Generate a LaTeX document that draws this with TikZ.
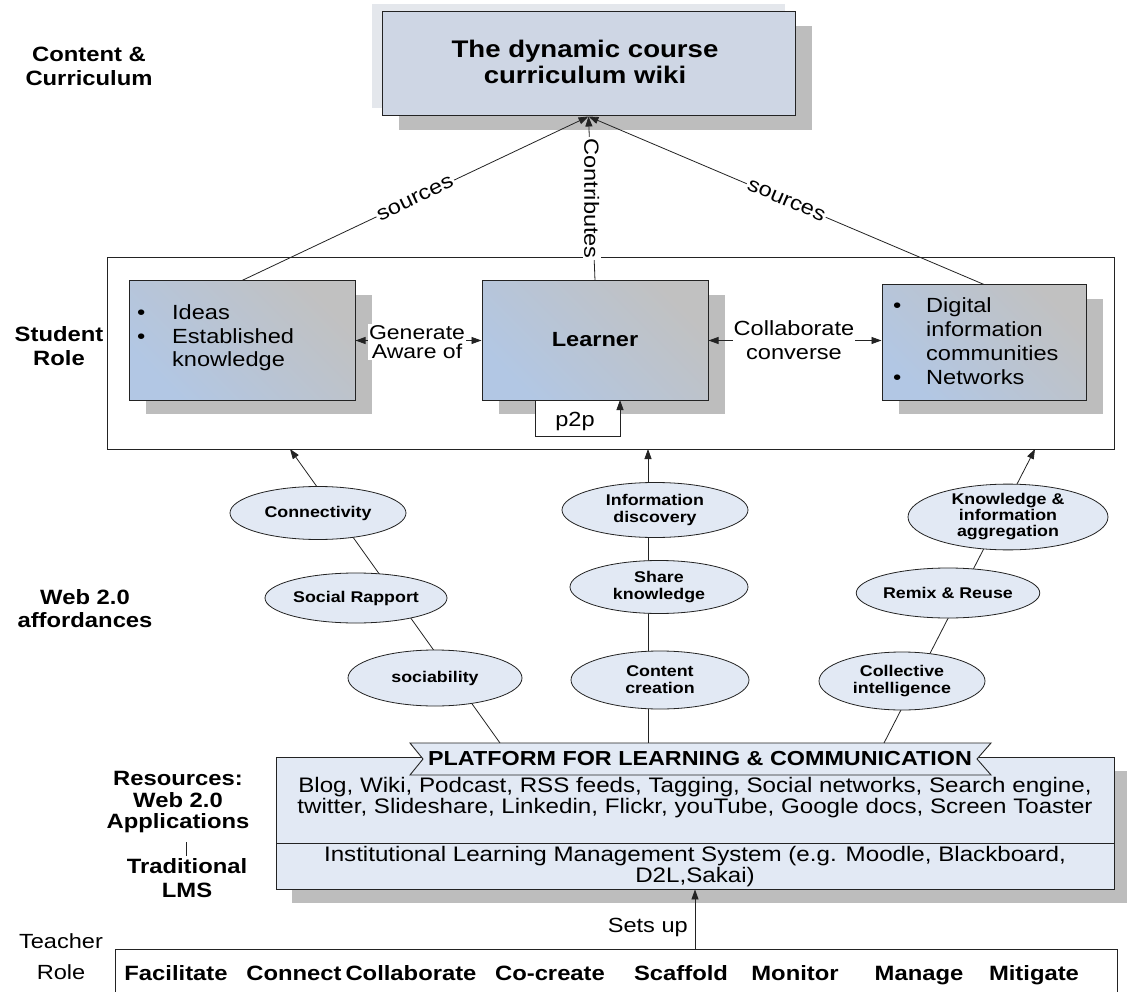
\documentclass[tikz,border=0pt]{standalone}
\usepackage{fontspec}
\setmainfont{Liberation Sans}[FakeStretch=1.15]
\usetikzlibrary{arrows.meta,shapes.geometric,shadows}
\definecolor{boxgray}{RGB}{193,193,193}
\definecolor{boxblue}{RGB}{178,199,228}
\definecolor{shadowgray}{RGB}{189,189,189}
\definecolor{pale}{RGB}{226,233,244}
\definecolor{titlefill}{RGB}{206,214,228}
\definecolor{hatch}{RGB}{228,231,236}
\definecolor{edge}{RGB}{35,35,35}
\newcommand\fsz[2]{\fontsize{#1}{#2}\selectfont}
\begin{document}
\begin{tikzpicture}[x=1pt,y=-1pt,
  lbl/.style={font=\fsz{20.7}{24}\bfseries, align=center, inner sep=0pt},
  body/.style={font=\fsz{20.5}{23.5}, inner sep=0pt},
  conn/.style={draw=edge, line width=0.8pt},
  arr/.style={conn, -{Triangle[length=10pt,width=7pt]}},
  twoarr/.style={conn, {Triangle[length=10pt,width=7pt]}-{Triangle[length=10pt,width=7pt]}},
  myshadow/.style={drop shadow={shadow xshift=17pt, shadow yshift=-14pt, fill=shadowgray, opacity=1}},
  rolebox/.style={draw=edge, line width=1pt, top color=boxgray, bottom color=boxblue, shading angle=-45, inner sep=0pt, myshadow},
  ell/.style={ellipse, draw=edge, line width=0.8pt, fill=pale, font=\fsz{15.5}{17}\bfseries, align=center, inner sep=0pt},
  palebox/.style={draw=edge, line width=0.9pt, fill=pale, inner sep=0pt},
  tlabel/.style={font=\fsz{20.7}{24}\bfseries, inner sep=0pt, anchor=base}
]
\clip (0,0) rectangle (1127,992);
\fill[white] (0,0) rectangle (1127,992);

% ---------- Content & curriculum ----------
\fill[hatch] (372,4) rectangle (785,108);
\node[draw=edge, line width=1pt, fill=titlefill, minimum width=413pt, minimum height=104pt, inner sep=0pt, myshadow] (title) at (588.5,64) {};
\node[font=\fsz{24}{26}\bfseries, align=center] (titletext) at (585,62) {The dynamic course\\curriculum wiki};

% ---------- left labels ----------
\node[lbl] (lcc) at (89,66) {Content \&\\Curriculum};
\node[lbl] (lsr) at (59,346) {Student\\Role};
\node[lbl, font=\fsz{20.7}{23}\bfseries] (lweb) at (85,608.5) {Web 2.0\\affordances};
\node[lbl, font=\fsz{20.7}{21.5}\bfseries] (lres) at (178,802.5) {Resources:\\Web 2.0\\Applications};
\node[lbl] (ltrad) at (187,878) {Traditional\\LMS};
\coordinate (la) at (186,842);
\coordinate (lb) at (186,856);
\draw[conn] (la) -- (lb);
\node[body, font=\fsz{20.5}{31}, align=center] (lteach) at (61,957) {Teacher\\Role};

% ---------- student role ----------
\node[draw=edge, line width=0.9pt, minimum width=1007pt, minimum height=192pt, inner sep=0pt] (student) at (610.5,353) {};
\node[rolebox, minimum width=226pt, minimum height=119pt] (ideas) at (242,340.5) {};
\node[rolebox, minimum width=226pt, minimum height=119pt] (learner) at (595,340.5) {};
\node[rolebox, minimum width=204pt, minimum height=115pt] (digital) at (984,342.5) {};

\node[body, anchor=west, align=left] (ideastext) at (137,338) {\makebox[35pt][l]{\textbullet}Ideas\\\makebox[35pt][l]{\textbullet}Established\\\hspace*{35pt}knowledge};
\node[body, font=\fsz{20.5}{24}, anchor=west, align=left] (digtext) at (893,341) {\makebox[33pt][l]{\textbullet}Digital\\\hspace*{33pt}information\\\hspace*{33pt}communities\\\makebox[33pt][l]{\textbullet}Networks};
\node[font=\fsz{20.5}{24}\bfseries, inner sep=0pt] (learnertext) at (595,340) {Learner};

% p2p loop
\coordinate (pa) at (535,400);
\coordinate (pb) at (620,400);
\fill[white] (535,401) rectangle (620,436);
\draw[arr] (pa) -- ++(0,36) -| (pb);
\node[body] (p2p) at (575,421) {p2p};

% horizontal relations
\draw[twoarr] (ideas.east) -- (learner.west);
\node[body, font=\fsz{20}{19.5}, fill=white, inner sep=1pt, align=center] (gen) at (417,342) {Generate\\Aware of};
\draw[twoarr] (learner.east) -- (learner.east -| digital.west);
\node[body, font=\fsz{20.5}{24}, fill=white, inner sep=1pt, align=center] (collab) at (794,340) {Collaborate\\converse};

% arrows to the wiki
\draw[arr] (ideas.north) -- node[body, sloped, fill=white, inner sep=1.5pt, pos=.5] (src1) {sources} (title.south);
\draw[arr] (learner.north) -- node[body, rotate=-90, fill=white, inner sep=1.5pt, pos=.5] (contr) {Contributes} (title.south);
\draw[arr] (digital.north) -- node[body, sloped, fill=white, inner sep=1.5pt, pos=.5] (src2) {sources} (title.south);

% ---------- resources ----------
\fill[shadowgray] (292,771) rectangle (1130,903);
\node[palebox, minimum width=838pt, minimum height=86pt] (res) at (695,800) {};
\node[palebox, minimum width=838pt, minimum height=46pt] (lms) at (695,866) {};
\node[body, font=\fsz{21}{21}, align=center] (apps) at (695,798) {Blog, Wiki, Podcast, RSS feeds, Tagging, Social networks, Search engine,\\twitter, Slideshare, Linkedin, Flickr, youTube, Google docs, Screen Toaster};
\node[body, font=\fsz{21}{21}, align=center] (lmstext) at (695,866.5) {Institutional Learning Management System (e.g. Moodle, Blackboard,\\D2L,Sakai)};

\draw[edge, line width=0.9pt, fill=pale] (410,743) -- (991,743) -- (977,759) -- (991,775) -- (410,775) -- (423,759) -- cycle;
\node[font=\fsz{20.3}{24}\bfseries, inner sep=0pt] (platform) at (700,759) {PLATFORM FOR LEARNING \& COMMUNICATION};

% ---------- affordance columns ----------
\coordinate (b1) at (500,743); \coordinate (t1) at (290,449);
\coordinate (b2) at (648,743); \coordinate (t2) at (648,449);
\coordinate (b3) at (884,743); \coordinate (t3) at (1035,449);
\draw[arr] (b1) -- (t1);
\draw[arr] (b2) -- (t2);
\draw[arr] (b3) -- (t3);

\node[ell, minimum width=176pt, minimum height=53pt] (connect) at (318,513) {Connectivity};
\node[ell, minimum width=182pt, minimum height=50pt] (rapport) at (356,598) {Social Rapport};
\node[ell, minimum width=174pt, minimum height=56pt] (sociab) at (435,678) {sociability};
\node[ell, minimum width=186pt, minimum height=55pt] (infod) at (655,510) {Information\\discovery};
\node[ell, minimum width=178pt, minimum height=53pt] (share) at (659,587) {Share\\knowledge};
\node[ell, minimum width=178pt, minimum height=58pt] (ccreate) at (660,680) {Content\\creation};
\node[ell, font=\fsz{15.5}{16}\bfseries, minimum width=200pt, minimum height=62pt] (knowagg) at (1008,517) {Knowledge \&\\information\\aggregation};
\node[ell, minimum width=180pt, minimum height=50pt] (remix) at (948,593) {Remix \& Reuse};
\node[ell, minimum width=166pt, minimum height=58pt] (collect) at (902,681) {Collective\\intelligence};

% ---------- teacher role ----------
\node[draw=edge, line width=0.9pt, minimum width=1002pt, minimum height=80pt, inner sep=0pt] (teacher) at (616,989) {};
\draw[arr] (teacher.north -| lms.south) -- (lms.south);
\node[body, anchor=east] (setsup) at (688,927) {Sets up};
\node[tlabel] (t1l) at (176,980) {Facilitate};
\node[tlabel] (t2l) at (294,980) {Connect};
\node[tlabel] (t3l) at (411,980) {Collaborate};
\node[tlabel] (t4l) at (550,980) {Co-create};
\node[tlabel] (t5l) at (681,980) {Scaffold};
\node[tlabel] (t6l) at (795,980) {Monitor};
\node[tlabel] (t7l) at (919,980) {Manage};
\node[tlabel] (t8l) at (1034,980) {Mitigate};
\end{tikzpicture}
\end{document}
